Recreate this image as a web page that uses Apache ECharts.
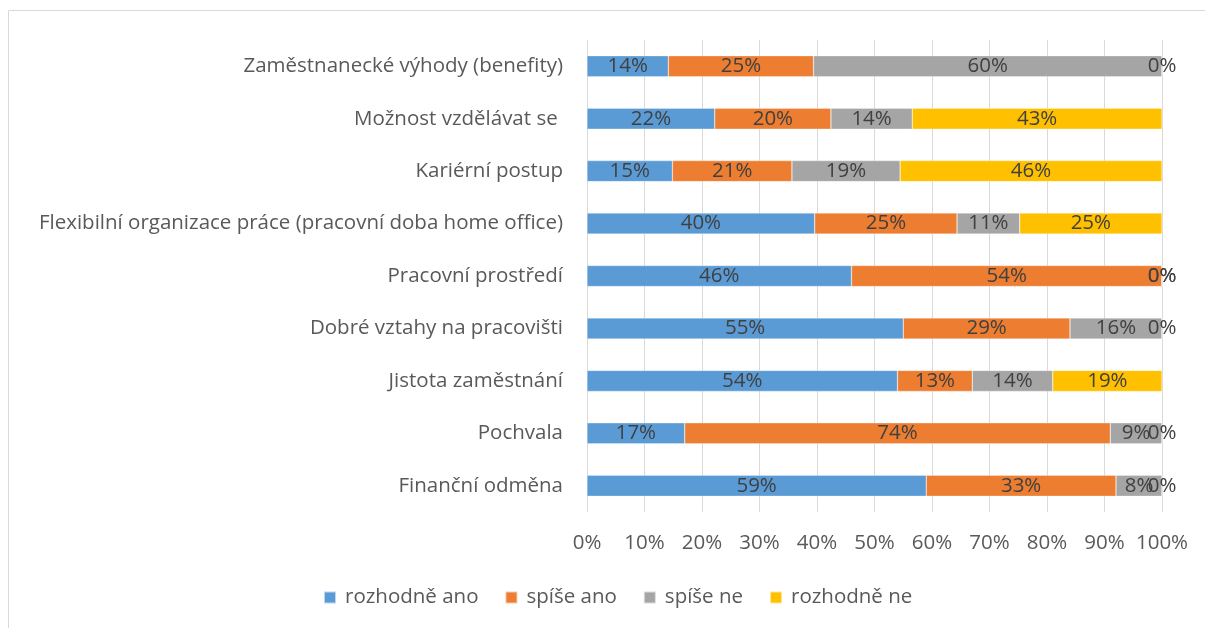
<!DOCTYPE html>
<html>
<head>
<meta charset="utf-8">
<script src="https://cdn.jsdelivr.net/npm/echarts@6/dist/echarts.min.js"></script>
<style>
  html, body { margin: 0; padding: 0; background: #fff; }
  #chart { width: 1205px; height: 628px; }
</style>
</head>
<body>
<div id="chart"></div>
<script>
// categories, top to bottom as in the picture
const categories = [
  'Zaměstnanecké výhody (benefity)',
  'Možnost vzdělávat se ',
  'Kariérní postup',
  'Flexibilní organizace práce (pracovní doba home office)',
  'Pracovní prostředí',
  'Dobré vztahy na pracovišti',
  'Jistota zaměstnání',
  'Pochvala',
  'Finanční odměna'
];

const seriesNames = ['rozhodně ano', 'spíše ano', 'spíše ne', 'rozhodně ne'];

// answers in percent, same order as categories
const rozhodneAno = [14, 22, 15, 40, 46, 55, 54, 17, 59];
const spiseAno    = [25, 20, 21, 25, 54, 29, 13, 74, 33];
const spiseNe     = [60, 14, 19, 11,  0, 16, 14,  9,  8];
const rozhodneNe  = [ 0, 43, 46, 25,  0,  0, 19,  0,  0];

const xTicks = [0, 10, 20, 30, 40, 50, 60, 70, 80, 90, 100];

const colors = ['#5B9BD5', '#ED7D31', '#A5A5A5', '#FFC000'];
const font = '"Open Sans", sans-serif';
const fs = 20.5;

const raw = [rozhodneAno, spiseAno, spiseNe, rozhodneNe];

// 100% stacked: each row is scaled to its own total
const totals = categories.map((c, i) => raw.reduce((s, arr) => s + arr[i], 0));

const chart = echarts.init(document.getElementById('chart'));

const series = raw.map((arr, k) => ({
  name: seriesNames[k],
  type: 'bar',
  stack: 'all',
  barWidth: 21,
  data: arr.map((v, i) => ({ value: v / totals[i] * 100, raw: v })),
  itemStyle: { color: colors[k], borderColor: 'rgba(255,255,255,0.6)', borderWidth: 0.5 },
  label: {
    show: true,
    position: 'inside',
    color: '#404040',
    fontFamily: font,
    fontSize: fs,
    formatter: p => p.data.raw + '%'
  }
}));

chart.setOption({
  animation: false,
  textStyle: { fontFamily: font },
  graphic: [{
    type: 'rect',
    shape: { x: 8.5, y: 10.5, width: 1300, height: 700 },
    style: { fill: 'none', stroke: '#d9d9d9', lineWidth: 1 },
    silent: true
  }],
  grid: { left: 587, right: 43, top: 40, bottom: 116, containLabel: false },
  legend: {
    bottom: 15,
    left: 318,
    icon: 'rect',
    itemWidth: 12,
    itemHeight: 12,
    itemGap: 26,
    textStyle: { color: '#595959', fontSize: fs, fontFamily: font, padding: [0, 0, 0, 4] },
    data: seriesNames
  },
  xAxis: {
    type: 'value',
    min: xTicks[0],
    max: xTicks[xTicks.length - 1],
    interval: 10,
    axisLine: { show: false },
    axisTick: { show: false },
    axisLabel: { color: '#595959', fontSize: fs, fontFamily: font, margin: 21, formatter: '{value}%' },
    splitLine: { show: true, lineStyle: { color: '#d9d9d9', width: 1 } }
  },
  yAxis: {
    type: 'category',
    inverse: true,
    data: categories,
    axisLine: { show: false },
    axisTick: { show: false },
    axisLabel: { color: '#595959', fontSize: fs, fontFamily: font, margin: 24 }
  },
  series: series
});
</script>
</body>
</html>
